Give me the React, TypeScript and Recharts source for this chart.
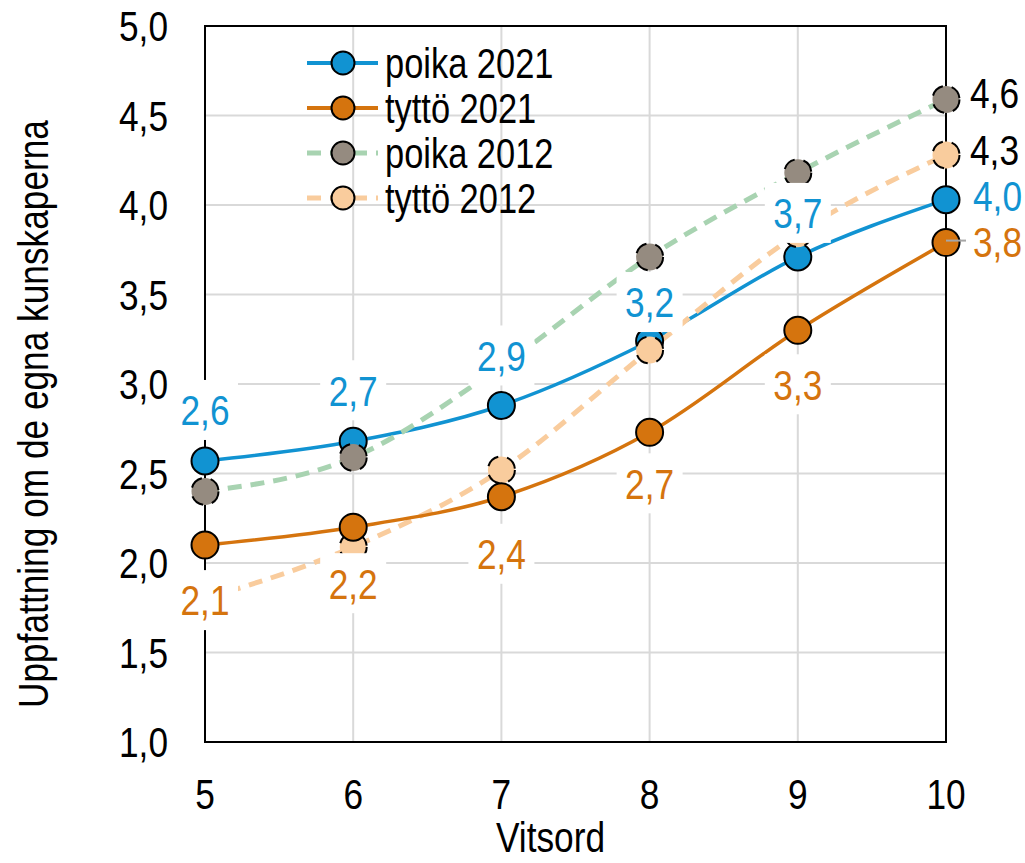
import React from 'react';
import { LineChart, Line, XAxis, YAxis, CartesianGrid, ReferenceArea, LabelList, Label } from 'recharts';

// ---- data ----
const grades = [5, 6, 7, 8, 9, 10];
const poika2021 = [2.57, 2.68, 2.88, 3.24, 3.71, 4.03];
const tytto2021 = [2.10, 2.20, 2.37, 2.73, 3.30, 3.79];
const poika2012 = [2.40, 2.59, 3.10, 3.71, 4.18, 4.59];
const tytto2012 = [1.80, 2.09, 2.52, 3.19, 3.84, 4.28];
const yTicks = [1, 1.5, 2, 2.5, 3, 3.5, 4, 4.5, 5];
const seriesNames = ['poika 2021', 'tyttö 2021', 'poika 2012', 'tyttö 2012'];
const yTitle = 'Uppfattning om de egna kunskaperna';
const xTitle = 'Vitsord';

const data = grades.map((g, i) => ({
  g,
  p21: poika2021[i],
  t21: tytto2021[i],
  p12: poika2012[i],
  t12: tytto2012[i],
}));

// ---- style ----
const BLUE = '#1193D2';
const ORANGE = '#D5740E';
const GRAY = '#958B80';
const PEACH = '#F9CC9D';
const GREEN_DASH = '#A8D3B1';
const FONT = '"Liberation Sans", Arial, sans-serif';
const NARROW = 0.82;
const FS = 43;
const CAPC = 0.358; // cap-center offset in em

const fmt = (v: number) => v.toFixed(1).replace('.', ',');

function NText({ x, y, size = FS, anchor = 'middle', fill = '#000', rotate = false, children }: any) {
  const t = rotate
    ? `translate(${x},${y}) rotate(-90) scale(${NARROW},1)`
    : `translate(${x},${y}) scale(${NARROW},1)`;
  return (
    <text transform={t} x={0} y={0} fontSize={size} fontFamily={FONT} textAnchor={anchor} fill={fill}>
      {children}
    </text>
  );
}

const YTick = (props: any) => {
  const { x, y, payload } = props;
  return <NText x={x} y={y + CAPC * FS} anchor="end">{fmt(payload.value)}</NText>;
};
const XTick = (props: any) => {
  const { x, y, payload } = props;
  return <NText x={x} y={y + CAPC * FS} anchor="middle">{String(payload.value)}</NText>;
};

// label placement config (style, per point index)
const blueLbl = { show: [1, 1, 1, 1, 1, 1], dx: [0, 0, 0, 0, 0, 27], dy: [-51, -51, -50, -39, -44, -4], color: BLUE, leader: -1 };
const orangeLbl = { show: [1, 1, 1, 1, 1, 1], dx: [0, 0, 0, 0, 0, 27], dy: [55, 56, 57, 51, 54, -1], color: ORANGE, leader: 5 };
const grayLbl = { show: [0, 0, 0, 0, 0, 1], dx: [0, 0, 0, 0, 0, 24], dy: [0, 0, 0, 0, 0, -7], color: '#000', leader: -1 };
const peachLbl = { show: [0, 0, 0, 0, 0, 1], dx: [0, 0, 0, 0, 0, 24], dy: [0, 0, 0, 0, 0, -5], color: '#000', leader: -1 };

const makeLabel = (cfg: any) => (props: any) => {
  const { index, value } = props;
  const px = props.x ?? props.viewBox?.x;
  const py = props.y ?? props.viewBox?.y;
  if (index == null || !cfg.show[index] || px == null || py == null) return null;
  const dx = cfg.dx[index];
  const cy = py + cfg.dy[index];
  const right = dx !== 0;
  const tx = px + dx;
  return (
    <g>
      {cfg.leader === index && (
        <line x1={px} y1={py - 2} x2={px + 20} y2={py - 2} stroke="#A6A6A6" strokeWidth={2} />
      )}
      {right ? (
        <rect x={tx - 3} y={cy - 26} width={54} height={52} fill="#fff" />
      ) : (
        <rect x={tx - 33} y={cy - 30} width={66} height={60} fill="#fff" />
      )}
      <NText x={tx} y={cy + CAPC * FS} anchor={right ? 'start' : 'middle'} fill={cfg.color}>
        {fmt(Number(value))}
      </NText>
    </g>
  );
};

const legendItems = [
  { name: seriesNames[0], line: BLUE, fill: BLUE, dash: undefined },
  { name: seriesNames[1], line: ORANGE, fill: ORANGE, dash: undefined },
  { name: seriesNames[2], line: GREEN_DASH, fill: GRAY, dash: '14 9' },
  { name: seriesNames[3], line: PEACH, fill: PEACH, dash: '14 9' },
];

const LegendBox = () => (
  <svg width={280} height={190} style={{ position: 'absolute', left: 300, top: 38 }}>
    {legendItems.map((it, i) => {
      const cy = 25 + 45 * i;
      return (
        <g key={it.name}>
          <line x1={7} y1={cy} x2={78} y2={cy} stroke={it.line} strokeWidth={it.dash ? 5 : 4} strokeDasharray={it.dash} />
          <circle cx={43} cy={cy} r={11.5} fill={it.fill} stroke="#000" strokeWidth={2} />
          <NText x={85} y={cy + CAPC * 42} size={42} anchor="start">{it.name}</NText>
        </g>
      );
    })}
  </svg>
);

const dotStyle = (c: string) => ({ r: 13.5, fill: c, stroke: '#000', strokeWidth: 2 });

export default function App() {
  return (
    <div style={{ position: 'absolute', left: 0, top: 0, width: 1025, height: 863, background: '#fff' }}>
      <LineChart width={1025} height={863} data={data} margin={{ top: 26, right: 79, bottom: 0, left: 0 }}>
        <CartesianGrid stroke="#D9D9D9" strokeWidth={2} />
        <XAxis
          dataKey="g"
          type="number"
          domain={[5, 10]}
          ticks={grades}
          axisLine={false}
          tickLine={false}
          height={121}
          tickMargin={46}
          tick={<XTick />}
        >
          <Label
            content={(p: any) => {
              const vb = p.viewBox;
              return <NText x={vb.x + vb.width / 2 - 25} y={vb.y + 110}>{xTitle}</NText>;
            }}
          />
        </XAxis>
        <YAxis
          type="number"
          domain={[1, 5]}
          ticks={yTicks}
          axisLine={false}
          tickLine={false}
          width={205}
          tickMargin={31}
          tick={<YTick />}
        >
          <Label
            content={(p: any) => {
              const vb = p.viewBox;
              return <NText x={48} y={vb.y + vb.height / 2 + 30} rotate>{yTitle}</NText>;
            }}
          />
        </YAxis>
        <ReferenceArea x1={5} x2={10} y1={1} y2={5} fill="none" stroke="#000" strokeWidth={2} ifOverflow="visible" />
        <Line type="monotone" dataKey="p21" stroke={BLUE} strokeWidth={3.5} dot={dotStyle(BLUE)} activeDot={false} isAnimationActive={false} />
        <Line type="monotone" dataKey="t12" stroke={PEACH} strokeWidth={5} strokeDasharray="14 9" dot={dotStyle(PEACH)} activeDot={false} isAnimationActive={false} />
        <Line type="monotone" dataKey="t21" stroke={ORANGE} strokeWidth={3.5} dot={dotStyle(ORANGE)} activeDot={false} isAnimationActive={false} />
        <Line type="monotone" dataKey="p12" stroke={GREEN_DASH} strokeWidth={5} strokeDasharray="14 9" dot={dotStyle(GRAY)} activeDot={false} isAnimationActive={false} />
        {/* label-only layers drawn last */}
        <Line dataKey="p12" stroke="none" dot={false} activeDot={false} legendType="none" isAnimationActive={false}>
          <LabelList dataKey="p12" content={makeLabel(grayLbl)} />
        </Line>
        <Line dataKey="t12" stroke="none" dot={false} activeDot={false} legendType="none" isAnimationActive={false}>
          <LabelList dataKey="t12" content={makeLabel(peachLbl)} />
        </Line>
        <Line dataKey="p21" stroke="none" dot={false} activeDot={false} legendType="none" isAnimationActive={false}>
          <LabelList dataKey="p21" content={makeLabel(blueLbl)} />
        </Line>
        <Line dataKey="t21" stroke="none" dot={false} activeDot={false} legendType="none" isAnimationActive={false}>
          <LabelList dataKey="t21" content={makeLabel(orangeLbl)} />
        </Line>
      </LineChart>
      <LegendBox />
    </div>
  );
}
